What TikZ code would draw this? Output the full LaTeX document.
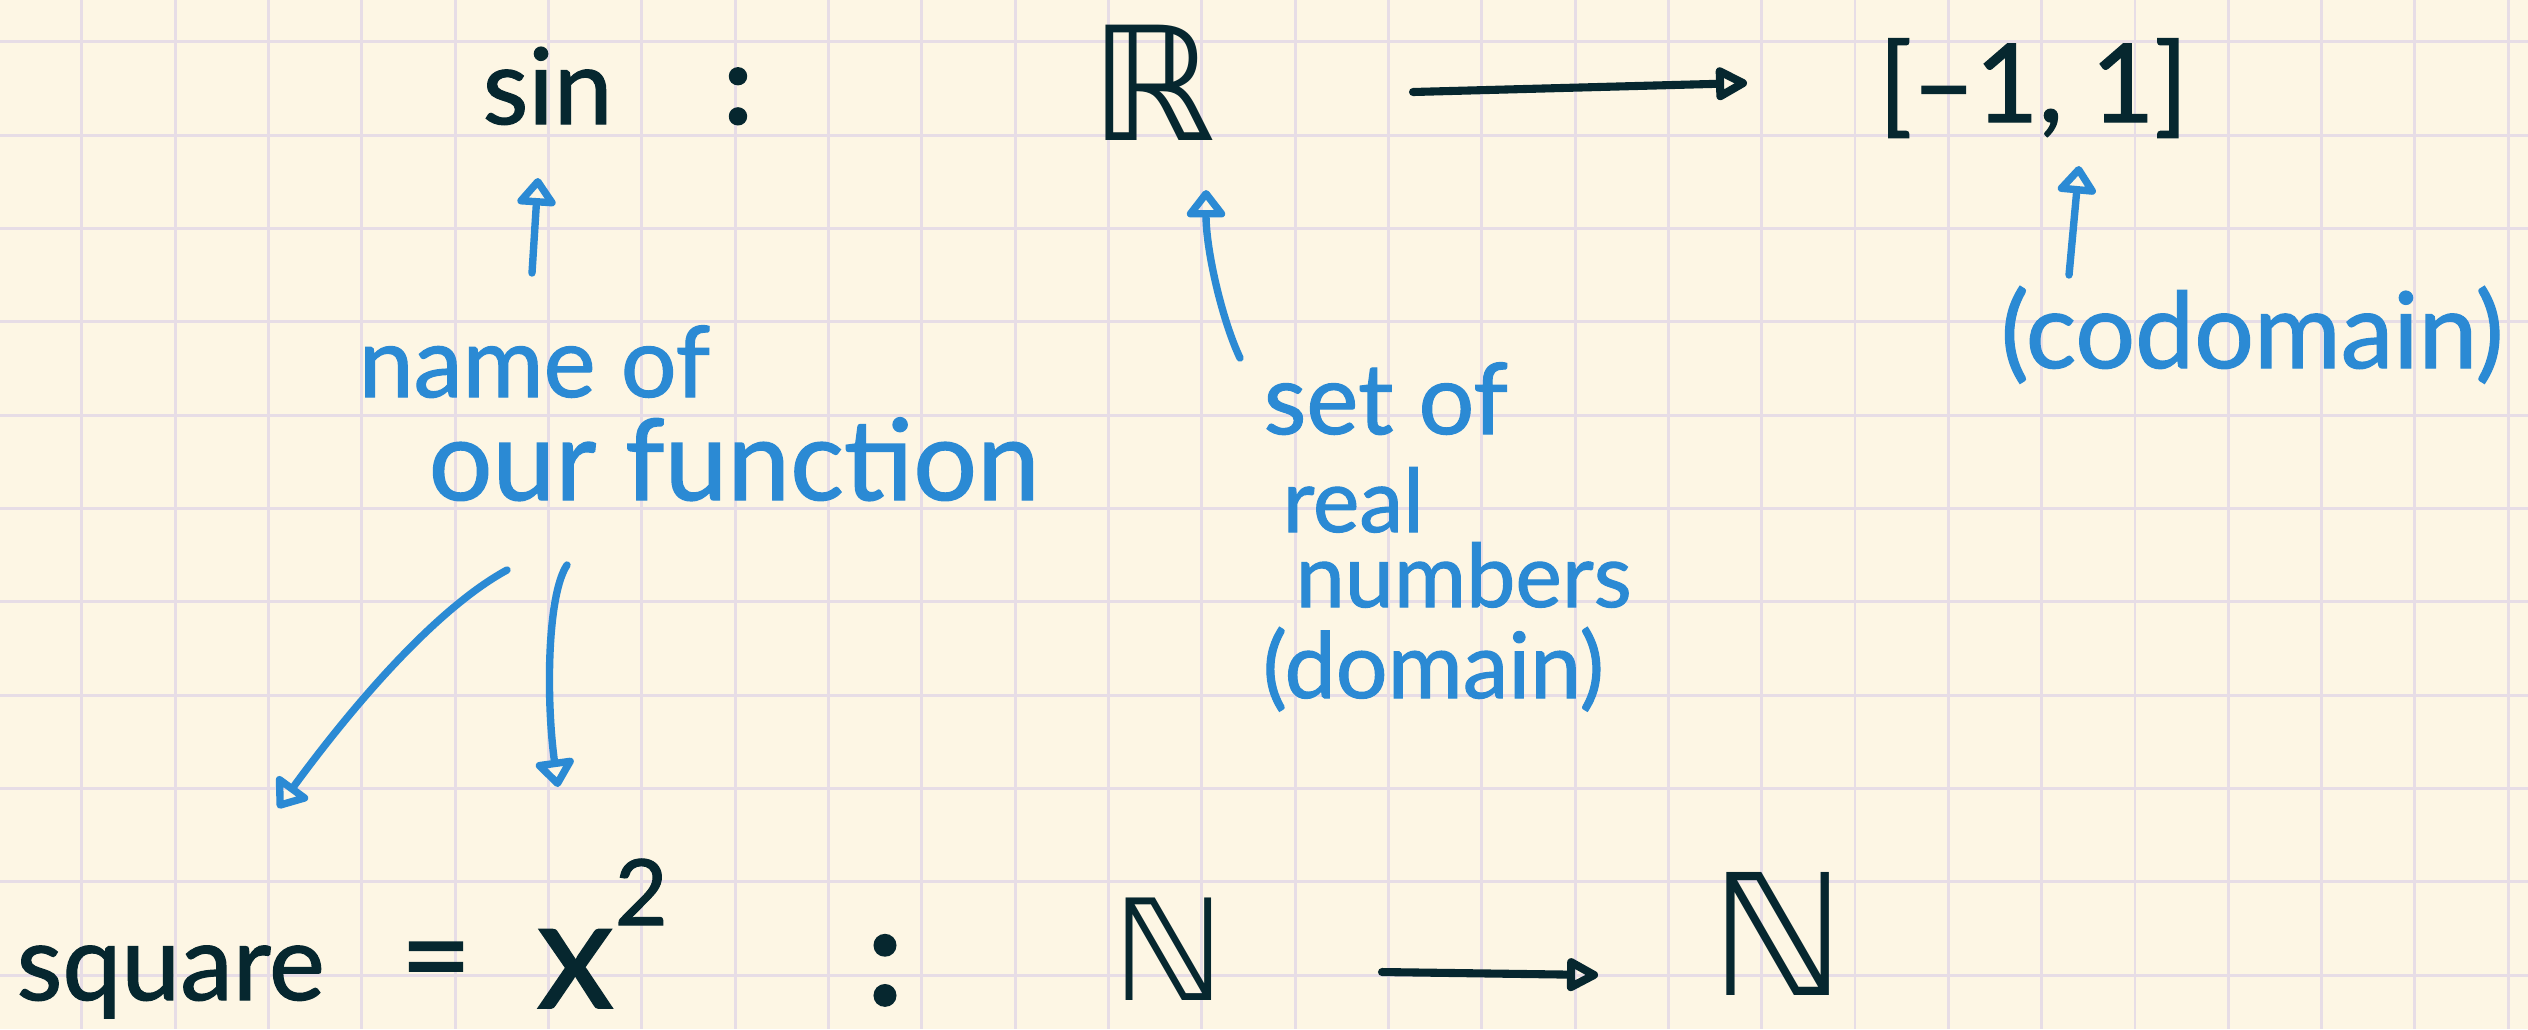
\documentclass[tikz,border=0pt]{standalone}
\usepackage{fontspec}
\setmainfont{Lato}[FakeBold=1.2]
\newfontfamily\dsfont{DejaVu Sans}
\usetikzlibrary{arrows.meta}
\definecolor{paper}{HTML}{FDF6E4}
\definecolor{gridline}{HTML}{E7DDE6}
\definecolor{ink}{HTML}{06272F}
\definecolor{pen}{HTML}{2B8AD4}
\newcommand\fsz[1]{\fontsize{#1}{#1}\selectfont}

\begin{document}
\begin{tikzpicture}[x=0.01cm,y=-0.01cm,
  word/.style={inner sep=0pt, anchor=base west},
  inktext/.style={word, text=ink},
  pentext/.style={word, text=pen},
  inkarrow/.style={draw=ink, line width=2.3pt, line cap=round, line join=round,
    -{Triangle[open,round,length=0.36cm,width=0.36cm]}},
  penarrow/.style={draw=pen, line width=2.1pt, line cap=round, line join=round,
    -{Triangle[open,round,length=0.3cm,width=0.44cm]}},
]
% squared paper
\fill[paper] (0,0) rectangle (2528,1029);
\useasboundingbox (0,0) rectangle (2528,1029);
\foreach \k in {0,...,26}
  \draw[gridline, line width=0.85pt] (81.7+93.33*\k,0) -- (81.7+93.33*\k,1029);
\foreach \k in {0,...,10}
  \draw[gridline, line width=0.85pt] (0,41.7+93.33*\k) -- (2528,41.7+93.33*\k);

% first line: sin : R --> [-1, 1]
\node[inktext, font=\fsz{30}] (sin) at (482,124) {sin};
\node[inktext, anchor=base, font=\fsz{32}\bfseries] (colA) at (738,124) {:};
\node[inktext, font=\fsz{45}\dsfont] (R) at (1090,140) {ℝ};
\node[inktext, font=\fsz{31}] (interval) at (1878,122) {[–1, 1]};
\coordinate (topA) at (1413,92);
\coordinate (topB) at (1747,83);
\draw[inkarrow] (topA) -- (topB);

% annotations
\node[pentext, font=\fsz{28}] (nameof) at (358,397) {name of};
\node[pentext, font=\fsz{32}] (ourfn) at (428,500) {our function};
\node[pentext, font=\fsz{28}] (setof) at (1263,434) {set of};
\node[pentext, font=\fsz{25}] (real) at (1282,532) {real};
\node[pentext, font=\fsz{25}] (numbers) at (1295,607) {numbers};
\node[pentext, font=\fsz{26}] (domain) at (1262,698) {(domain)};
\node[pentext, font=\fsz{30}] (codomain) at (2000,368) {(codomain)};

\coordinate (sinA) at (532,273);
\coordinate (sinB) at (538,178);
\draw[penarrow] (sinA) -- (sinB);
\coordinate (domA) at (1240,358);
\coordinate (domB) at (1206,190);
\draw[penarrow] (domA) .. controls (1222,320) and (1206,250) .. (domB);
\coordinate (codA) at (2069,275);
\coordinate (codB) at (2079,166);
\draw[penarrow] (codA) -- (codB);
\coordinate (leftA) at (507,570);
\coordinate (leftB) at (278,808);
\draw[penarrow] (leftA) .. controls (430,612) and (343,719) .. (leftB);
\coordinate (downA) at (567,565);
\coordinate (downB) at (558,787);
\draw[penarrow] (downA) .. controls (547,595) and (546,700) .. (downB);

% second line: square = x^2 : N --> N
\node[inktext, font=\fsz{30}] (square) at (16,1000) {square};
\node[inktext, anchor=base, font=\fsz{35}] (eq) at (436,998) {=};
\node[inktext, font=\fsz{44}] (x) at (536,1008) {x};
\node[inktext, font=\fsz{26}] (two) at (614,925) {2};
\node[inktext, anchor=base, font=\fsz{40}\bfseries] (colB) at (885,1005) {:};
\node[inktext, font=\fsz{40}\dsfont] (N1) at (1112,1000) {ℕ};
\node[inktext, font=\fsz{48}\dsfont] (N2) at (1710,995) {ℕ};
\coordinate (botA) at (1382,972);
\coordinate (botB) at (1598,975);
\draw[inkarrow] (botA) -- (botB);
\end{tikzpicture}
\end{document}
